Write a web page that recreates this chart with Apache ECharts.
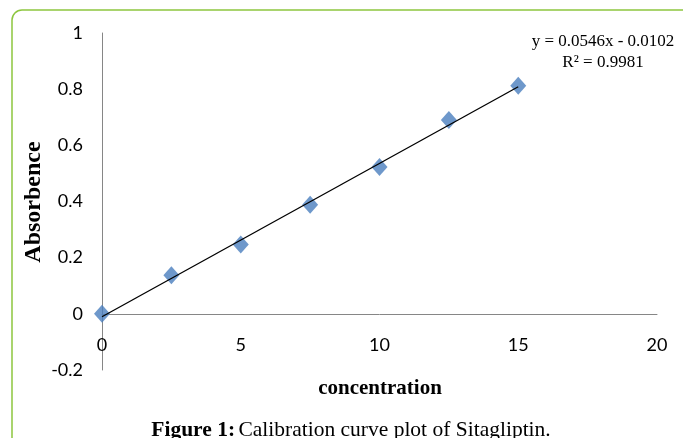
<!DOCTYPE html>
<html>
<head>
<meta charset="utf-8">
<script src="https://cdn.jsdelivr.net/npm/echarts@6/dist/echarts.min.js"></script>
<style>html,body{margin:0;padding:0;background:#fff;}#c{width:683px;height:438px;}</style>
</head>
<body>
<div id="c"></div>
<script>
const concentration = [0, 2.5, 5, 7.5, 10, 12.5, 15];
const absorbance = [0, 0.137, 0.247, 0.388, 0.523, 0.690, 0.812];
const slope = 0.0546;
const intercept = -0.0102;
const trendX = [0, 15];
const equationText = 'y = 0.0546x - 0.0102';
const r2Text = 'R² = 0.9981';
const xTicks = [0, 5, 10, 15, 20];
const yTicks = [-0.2, 0, 0.2, 0.4, 0.6, 0.8, 1];

const chart = echarts.init(document.getElementById('c'));
const points = concentration.map((x, i) => [x, absorbance[i]]);
const trend = trendX.map(x => [x, slope * x + intercept]);

const option = {
  animation: false,
  backgroundColor: '#fff',
  grid: { left: 102, right: 26, top: 33, bottom: 68 },
  xAxis: {
    type: 'value', min: xTicks[0], max: xTicks[xTicks.length - 1], interval: 5,
    offset: 0,
    axisLine: { show: true, onZero: false, lineStyle: { color: '#868686', width: 1 } },
    axisTick: { show: false },
    splitLine: { show: false },
    axisLabel: { color: '#000', fontFamily: 'Lato', fontSize: 18, margin: 22 }
  },
  yAxis: {
    type: 'value', min: yTicks[0], max: yTicks[yTicks.length - 1], interval: 0.2,
    axisLine: { show: true, lineStyle: { color: '#868686', width: 1 } },
    axisTick: { show: false },
    splitLine: { show: false },
    axisLabel: {
      color: '#000', fontFamily: 'Lato', fontSize: 18, margin: 19,
      formatter: v => String(Math.round(v * 10) / 10)
    }
  },
  series: [
    {
      type: 'line', data: trend, symbol: 'none',
      lineStyle: { color: '#000', width: 1.3 }, z: 3
    },
    {
      type: 'scatter', data: points, symbol: 'diamond', symbolSize: [16, 18],
      itemStyle: { color: '#4A7EBE' }, z: 2
    }
  ],
  graphic: [
    { type: 'rect', shape: { x: 12, y: 10, width: 720, height: 480, r: 10 },
      style: { fill: 'none', stroke: '#8DC63F', lineWidth: 1.5 }, silent: true },
    { type: 'text', x: 603, y: 42,
      style: { text: equationText, font: '17px "Liberation Serif"', fill: '#000', align: 'center', verticalAlign: 'middle' } },
    { type: 'text', x: 603, y: 63,
      style: { text: r2Text, font: '17px "Liberation Serif"', fill: '#000', align: 'center', verticalAlign: 'middle' } },
    { type: 'text', x: 380, y: 389,
      style: { text: 'concentration', font: 'bold 21px "Liberation Serif"', fill: '#000', align: 'center', verticalAlign: 'middle' } },
    { type: 'text', x: 34, y: 202, rotation: Math.PI / 2,
      style: { text: 'Absorbence', font: 'bold 24px "Liberation Serif"', fill: '#000', align: 'center', verticalAlign: 'middle' } },
    { type: 'text', x: 351, y: 430,
      style: {
        text: '{b|Figure 1:} {n|Calibration curve plot of Sitagliptin.}',
        align: 'center', verticalAlign: 'middle',
        rich: {
          b: { font: 'bold 21.5px "Liberation Serif"', fill: '#000' },
          n: { font: '21.5px "Liberation Serif"', fill: '#000' }
        }
      } }
  ]
};
chart.setOption(option);
// Move the x axis (line + labels) up to the y = 0 line, as in the reference
const yZero = chart.convertToPixel({ yAxisIndex: 0 }, 0);
const yMin = chart.convertToPixel({ yAxisIndex: 0 }, yTicks[0]);
chart.setOption({ xAxis: { offset: yZero - yMin } });
</script>
</body>
</html>
